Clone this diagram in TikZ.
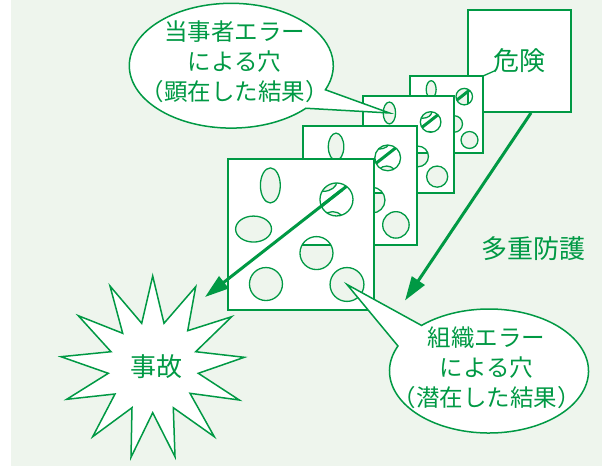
\documentclass[tikz,border=0pt]{standalone}
\usepackage{fontspec}
\setmainfont{Noto Sans CJK JP}
\usetikzlibrary{arrows.meta,calc}
\definecolor{leaf}{RGB}{0,153,68}
\definecolor{mint}{RGB}{238,245,237}

\tikzset{
  sheet/.style={draw=leaf, line width=1.8pt},
  holeline/.style={draw=leaf, line width=1.3pt},
  slash/.style={draw=leaf, line width=3pt},
  flow/.style={draw=leaf, line width=3pt, -{Triangle[length=24pt,width=15pt]}},
  balloon/.style={draw=leaf, fill=white, line width=1.5pt, line join=miter},
  tag/.style={text=leaf, font=\fontsize{26}{30}\selectfont, inner sep=0pt},
  calltext/.style={text=leaf, font=\fontsize{23.5}{30}\selectfont, align=center, inner sep=0pt},
}

% holes of one slice: centre (fraction of width / height), radii (fraction of width)
\def\holelist{0.29/0.175/0.068/0.12, 0.175/0.464/0.123/0.089, 0.743/0.268/0.113/0.113,
  0.606/0.623/0.113/0.113, 0.26/0.828/0.113/0.113, 0.815/0.831/0.116/0.116}

% one slice of cheese: name, left, top, width, height
\newcommand\cheese[5]{%
  \coordinate (#1-nw) at (#2,#3);
  \coordinate (#1-ne) at ({#2+#4},#3);
  \coordinate (#1-se) at ({#2+#4},{#3+#5});
  \coordinate (#1-vh) at ({#2+0.29*#4},{#3+0.175*#5});
  \coordinate (#1-tr) at ({#2+0.743*#4},{#3+0.268*#5});
  \coordinate (#1-br) at ({#2+0.815*#4},{#3+0.831*#5});
  \fill[white, even odd rule] (#1-nw) rectangle (#1-se)
    foreach \px/\py/\rx/\ry in \holelist
      {({#2+\px*#4},{#3+\py*#5}) ellipse [x radius={\rx*#4}, y radius={\ry*#4}]};
  \begin{scope}
    \clip (#1-tr) circle [radius={0.113*#4}];
    \draw[slash] (chain-in) -- (chain-out);
  \end{scope}
  \draw[sheet] (#1-nw) rectangle (#1-se);
  \path[holeline]
    foreach \px/\py/\rx/\ry in \holelist
      {({#2+\px*#4},{#3+\py*#5}) ellipse [x radius={\rx*#4}, y radius={\ry*#4}]};
}

\begin{document}
\begin{tikzpicture}[x=1pt, y=-1pt]
  \useasboundingbox (0,0) rectangle (602,466);
  \fill[mint] (11,0) rectangle (602,466);

  % line of aligned holes, from the rear slice to the accident
  \coordinate (chain-in) at (471,89);
  \coordinate (chain-out) at (205,297);

  % hazard
  \node[draw=leaf, line width=1.8pt, fill=white, minimum width=103pt, minimum height=102pt,
        inner sep=0pt, text=leaf, font=\fontsize{26}{30}\selectfont] (hazard) at (519.5,61) {危険};
  \coordinate (hazard-tag) at (495,70.7);
  \coordinate (shield-end) at (405,300.5);
  \draw[flow] ([xshift=11.5pt]hazard.south) -- (shield-end);

  % defence slices, rear to front
  \cheese{p4}{410}{76}{73}{77}
  \cheese{p3}{363}{96}{91}{97}
  \cheese{p2}{303}{126}{114}{119}
  \cheese{p1}{228}{159}{146}{151}
  \draw[leaf, line width=1.3pt] (p4-ne) -- (hazard-tag);
  \draw[flow] ($(chain-in)!0.485!(chain-out)$) -- (chain-out);

  \node[tag] (defense) at (533.3,249) {多重防護};

  % accident burst
  \draw[balloon] (152.7,276) -- (164,323.3) -- (195.7,286.7) -- (187.7,330.7) -- (231.7,316.7)
    -- (195.7,351.7) -- (244.3,357.3) -- (198.3,373.3) -- (239.3,400) -- (190,393.3)
    -- (214.3,436.7) -- (173.3,407.7) -- (175,456.7) -- (152.7,412.7) -- (131,457.3)
    -- (132,407.7) -- (92.7,436.7) -- (115,394) -- (66.7,399.3) -- (108.3,373.3)
    -- (61,356.7) -- (111,351.7) -- (78.3,315.7) -- (122.7,333.3) -- (110,286)
    -- (141.7,323.3) -- cycle;
  \node[tag] (accident) at (156.7,366.7) {事故};

  % callout: active failures
  \coordinate (cb-top) at (231.3,65.7);
  \draw[balloon] ($(cb-top)+(22.7:102 and 62.4)$) -- (p3-vh)
    -- ($(cb-top)+(43:102 and 62.4)$)
    arc[start angle=43, end angle=382.7, x radius=102, y radius=62.4] -- cycle;
  \node[calltext] (active) at (234.5,62) {当事者エラー\\による穴\\（顕在した結果）};

  % callout: latent conditions
  \coordinate (cb-bot) at (489,371);
  \draw[balloon] ($(cb-bot)+(227.3:99.5 and 62)$) -- (p1-br)
    -- ($(cb-bot)+(203.8:99.5 and 62)$)
    arc[start angle=203.8, end angle=-132.7, x radius=99.5, y radius=62] -- cycle;
  \node[calltext] (latent) at (486.5,367.5) {組織エラー\\による穴\\（潜在した結果）};
\end{tikzpicture}
\end{document}
